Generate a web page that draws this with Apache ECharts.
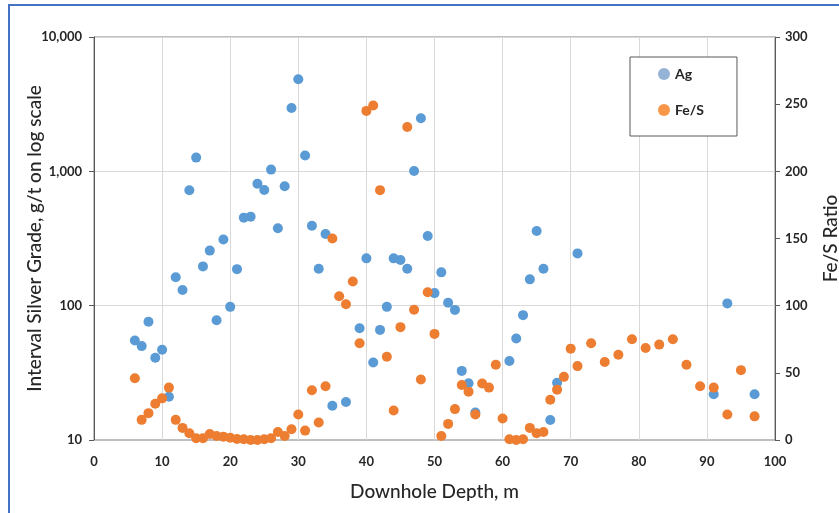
<!DOCTYPE html>
<html>
<head>
<meta charset="utf-8">
<script src="https://cdn.jsdelivr.net/npm/echarts@6/dist/echarts.min.js"></script>
<style>
html,body{margin:0;padding:0;background:#fff;}
#chart{width:839px;height:513px;}
</style>
</head>
<body>
<div id="chart"></div>
<script>
// Ag (g/t) vs downhole depth (m)
var agDepth = [6,7,8,9,10,11,12,13,14,15,16,17,18,19,20,21,22,23,24,25,26,27,28,29,30,31,32,33,34,35,37,39,40,41,42,43,44,45,46,47,48,49,50,51,52,53,54,55,56,61,62,63,64,65,66,67,68,71,91,93,97];
var agValue = [55,50,76,41,47,21,163,131,723,1265,196,257,78,311,98,187,452,460,809,727,1030,377,774,2965,4850,1310,394,188,342,18,19.2,68,225,37.7,66,98,225,219,188,1007,2484,330,124,177,105,93,32.7,26.4,16,38.7,57,85,157,360,188,14.1,26.7,245,21.9,104,21.9];
// Fe/S ratio vs downhole depth (m)
var feDepth = [6,7,8,9,10,11,12,13,14,15,16,17,18,19,20,21,22,23,24,25,26,27,28,29,30,31,32,33,34,35,36,37,38,39,40,41,42,43,44,45,46,47,48,49,50,51,52,53,54,55,56,57,58,59,60,61,62,63,64,65,66,67,68,69,70,71,73,75,77,79,81,83,85,87,89,91,93,95,97];
var feValue = [46,15,20,27,31,39,15,9,5,1.3,1.3,4.5,3,2.5,1.7,0.7,0.5,0,0,0.5,1.3,6,3,8,19,7,37,13,40,150,107,101,118,72,245,249,186,62,22,84,233,97,45,110,79,3,12,23,41,36,19,42,39,56,16,0.5,0,0.5,9,5,6,30,37.5,47,68,55,72,58,63.5,75,68.5,71,75,56,40,39,19,52,17.6];
var seriesNames = ['Ag','Fe/S'];
var xTitle = 'Downhole Depth, m';
var yLeftTitle = 'Interval Silver Grade, g/t on log scale';
var yRightTitle = 'Fe/S Ratio';

function zip(a,b){var r=[];for(var i=0;i<a.length;i++){r.push([a[i],b[i]]);}return r;}

var chart = echarts.init(document.getElementById('chart'), null, {renderer:'canvas'});
var labelFont = {fontFamily:'Lato', fontWeight:'bold', fontSize:13, color:'#262626'};
var titleFont = {fontFamily:'Lato', fontSize:19, fontWeight:500, color:'#262626'};
var option = {
  backgroundColor:'#ffffff',
  animation:false,
  graphic:[{type:'rect', shape:{x:9,y:5,width:850,height:530}, style:{fill:'none', stroke:'#4472C4', lineWidth:2}, silent:true}],
  grid:{left:94, right:64, top:37, bottom:73, show:true, borderColor:'#7f7f7f', borderWidth:1, containLabel:false, outerBoundsMode:'none'},
  legend:{
    orient:'vertical', left:630, top:57,
    padding:[10,33,19,28], itemGap:22, itemWidth:12, itemHeight:12,
    backgroundColor:'#fff', borderColor:'#595959', borderWidth:1,
    textStyle:{fontFamily:'Lato', fontWeight:'bold', fontSize:14, color:'#262626'},
    data:[
      {name:seriesNames[0], icon:'circle', itemStyle:{color:'#95B3D7'}},
      {name:seriesNames[1], icon:'circle', itemStyle:{color:'#F79646'}}
    ]
  },
  xAxis:{
    type:'value', min:0, max:100, interval:10,
    name:xTitle, nameLocation:'middle', nameGap:42, nameMoveOverlap:false,
    nameTextStyle:titleFont,
    axisLine:{show:true, onZero:false, lineStyle:{color:'#bfbfbf'}},
    axisTick:{show:false},
    axisLabel:Object.assign({margin:15}, labelFont),
    splitLine:{show:true, lineStyle:{color:'#d9d9d9', width:1}}
  },
  yAxis:[{
    type:'log', logBase:10, min:10, max:10000,
    name:yLeftTitle, nameLocation:'middle', nameGap:50, nameRotate:90, nameMoveOverlap:false,
    nameTextStyle:titleFont,
    axisLine:{show:true, lineStyle:{color:'#595959'}},
    axisTick:{show:true, length:5, lineStyle:{color:'#595959'}},
    axisLabel:Object.assign({margin:12, formatter:function(v){return Math.round(v).toLocaleString('en-US');}}, labelFont),
    splitLine:{show:true, lineStyle:{color:'#d9d9d9', width:1}}
  },{
    type:'value', min:0, max:300, interval:50, position:'right',
    name:yRightTitle, nameLocation:'middle', nameGap:46, nameRotate:90, nameMoveOverlap:false,
    nameTextStyle:titleFont,
    axisLine:{show:true, lineStyle:{color:'#595959'}},
    axisTick:{show:true, length:5, lineStyle:{color:'#595959'}},
    axisLabel:Object.assign({margin:10}, labelFont),
    splitLine:{show:false}
  }],
  series:[
    {name:seriesNames[0], type:'scatter', yAxisIndex:0, symbol:'circle', symbolSize:10,
     itemStyle:{color:'#5B9BD5', opacity:1}, data:zip(agDepth, agValue)},
    {name:seriesNames[1], type:'scatter', yAxisIndex:1, symbol:'circle', symbolSize:10,
     itemStyle:{color:'#ED7D31', opacity:1}, data:zip(feDepth, feValue)}
  ]
};
chart.setOption(option);
</script>
</body>
</html>
